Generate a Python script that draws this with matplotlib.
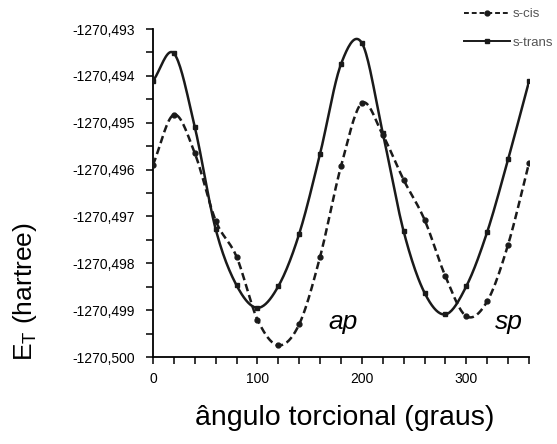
import numpy as np
import matplotlib
matplotlib.use("Agg")
import matplotlib.pyplot as plt
from matplotlib.ticker import FixedLocator, FuncFormatter, MultipleLocator
from matplotlib.lines import Line2D

plt.rcParams['font.family'] = ['Liberation Sans', 'DejaVu Sans']

# ---- data ----
angles = [0, 20, 40, 60, 80, 100, 120, 140, 160, 180, 200, 220, 240, 260, 280, 300, 320, 340, 360]
s_cis = [-1270.49590, -1270.49483, -1270.49565, -1270.49709, -1270.49786, -1270.49920,
         -1270.49975, -1270.49930, -1270.49786, -1270.49593, -1270.49458, -1270.49526,
         -1270.49622, -1270.49707, -1270.49828, -1270.49913, -1270.49881, -1270.49760,
         -1270.49586]
s_trans = [-1270.49411, -1270.49352, -1270.49509, -1270.49727, -1270.49847, -1270.49895,
           -1270.49849, -1270.49737, -1270.49566, -1270.49375, -1270.49330, -1270.49522,
           -1270.49732, -1270.49863, -1270.49909, -1270.49849, -1270.49733, -1270.49578,
           -1270.49412]
series_names = ["s-cis", "s-trans"]
x_labels = [0, 100, 200, 300]
y_ticks = [-1270.500, -1270.499, -1270.498, -1270.497, -1270.496, -1270.495, -1270.494, -1270.493]
region_labels = ["ap", "sp"]
region_x = [168, 327]
region_y = [-1270.49926, -1270.49926]


def smooth(x, y, n=20):
    """Catmull-Rom curve through the points (like a spreadsheet 'smoothed line')."""
    x = np.asarray(x, float)
    y = np.asarray(y, float) + 1270.0
    P = np.column_stack([x, y])
    P = np.vstack([2 * P[0] - P[1], P, 2 * P[-1] - P[-2]])
    out = []
    t = np.linspace(0, 1, n, endpoint=False)[:, None]
    for i in range(1, len(P) - 2):
        p0, p1, p2, p3 = P[i - 1], P[i], P[i + 1], P[i + 2]
        seg = 0.5 * ((2 * p1) + (-p0 + p2) * t + (2 * p0 - 5 * p1 + 4 * p2 - p3) * t ** 2
                     + (-p0 + 3 * p1 - 3 * p2 + p3) * t ** 3)
        out.append(seg)
    out.append(P[-2][None, :])
    out = np.vstack(out)
    return out[:, 0], out[:, 1] - 1270.0


fig = plt.figure(figsize=(5.57, 4.44), dpi=100)
ax = fig.add_axes([153 / 557, 1 - 357 / 444, (529 - 153) / 557, (357 - 29) / 444])

ink = '#1a1a1a'
sx, sy = smooth(angles, s_cis)
ax.plot(sx, sy, color=ink, lw=1.8, ls=(0, (3, 1.6)), zorder=3)
ax.plot(angles, s_cis, ls='none', marker='o', ms=3.5, color=ink, zorder=4)

tx, ty = smooth(angles, s_trans)
ax.plot(tx, ty, color=ink, lw=1.8, zorder=3)
ax.plot(angles, s_trans, ls='none', marker='s', ms=3.5, color=ink, zorder=4)

ax.set_xlim(0, 360)
ax.set_ylim(-1270.500, -1270.493)

ax.xaxis.set_major_locator(FixedLocator(x_labels))
ax.xaxis.set_minor_locator(MultipleLocator(20))
ax.yaxis.set_major_locator(FixedLocator(y_ticks))
ax.yaxis.set_minor_locator(MultipleLocator(0.0005))
ax.yaxis.set_major_formatter(FuncFormatter(lambda v, p: f"{v:.3f}".replace('.', ',')))

for s in ['top', 'right']:
    ax.spines[s].set_visible(False)
for s in ['left', 'bottom']:
    ax.spines[s].set_linewidth(1.3)
ax.tick_params(which='both', direction='out', length=5, width=1.1, color='black')
ax.tick_params(axis='both', labelsize=10)
ax.tick_params(axis='x', pad=6)
ax.tick_params(axis='y', pad=8)

for lab, xx, yy in zip(region_labels, region_x, region_y):
    ax.text(xx, yy, lab, style='italic', fontsize=19, ha='left', va='center')

fig.text(345 / 557, 1 - 418 / 444, 'ângulo torcional (graus)', fontsize=20.5, ha='center', va='center')
fig.text(25 / 557, 1 - 292 / 444, r'E$_\mathregular{T}$ (hartree)', fontsize=19, rotation=90,
         ha='center', va='center')

handles = [Line2D([0, 0.5, 1], [0, 0, 0], color=ink, lw=1.4, ls=(0, (2.5, 1.5)), marker='o', ms=3.5,
                  markevery=[1]),
           Line2D([0, 0.5, 1], [0, 0, 0], color=ink, lw=1.4, marker='s', ms=3.5, markevery=[1])]
leg = ax.legend(handles, series_names, loc='upper left', bbox_to_anchor=(464 / 557, 1 - 8 / 444),
                bbox_transform=fig.transFigure, frameon=False, fontsize=9.5, handlelength=3.5,
                handletextpad=0.2, labelspacing=1.25, borderaxespad=0, borderpad=0)
for t in leg.get_texts():
    t.set_color('#555555')

fig.savefig('out.png', dpi=100, facecolor='white')
